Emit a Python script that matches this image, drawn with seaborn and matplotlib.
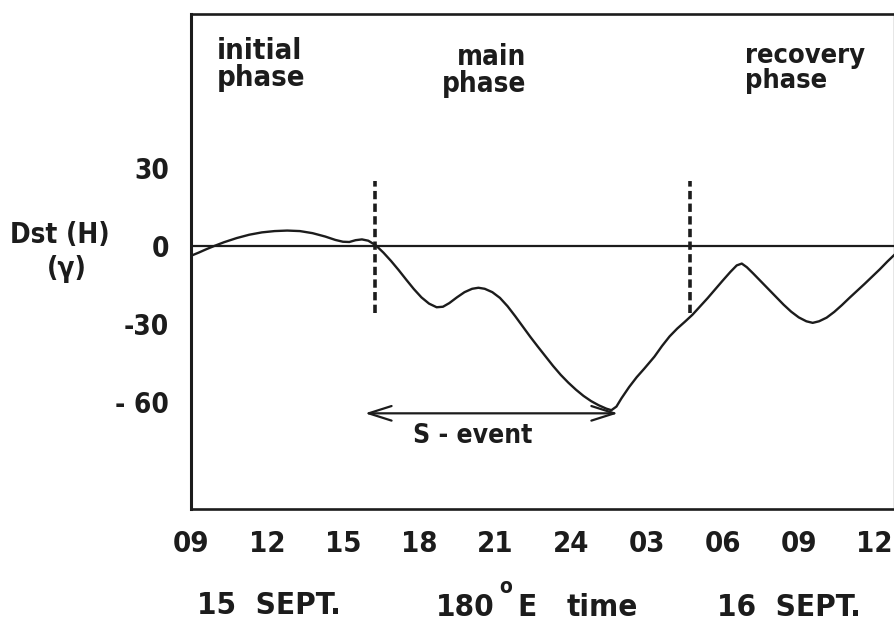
import matplotlib
matplotlib.use("Agg")
import matplotlib.pyplot as plt
import seaborn as sns
import pandas as pd

# Storm-time Dst(H) trace, hours counted from 09h 15 Sept (180°E time)
hours = [0.0, 0.3, 0.6, 0.9, 1.3, 1.8, 2.3, 2.8, 3.3, 3.8, 4.3, 4.8,
         5.3, 5.7, 6.0, 6.25, 6.5, 6.75, 7.0, 7.3, 7.6, 7.9, 8.2, 8.5,
         8.8, 9.1, 9.4, 9.7, 9.95, 10.2, 10.5, 10.8, 11.1, 11.35, 11.6, 11.9,
         12.2, 12.5, 12.8, 13.1, 13.4, 13.7, 14.0, 14.3, 14.6, 14.9, 15.2, 15.5,
         15.8, 16.1, 16.4, 16.6, 16.8, 17.0, 17.3, 17.6, 17.9, 18.1, 18.3, 18.6,
         18.9, 19.2, 19.5, 19.8, 20.1, 20.4, 20.7, 21.0, 21.3, 21.55, 21.75, 21.95,
         22.2, 22.5, 22.8, 23.1, 23.4, 23.7, 24.0, 24.3, 24.55, 24.8, 25.1, 25.4,
         25.7, 26.0, 26.3, 26.6, 26.9, 27.2, 27.5, 27.8]
dst = [-3.8, -2.6, -1.3, -0.1, 1.4, 3.0, 4.3, 5.2, 5.7, 5.9, 5.7, 4.9,
       3.6, 2.3, 1.6, 1.5, 2.2, 2.5, 2.0, 0.2, -2.6, -5.8, -9.3, -13.0,
       -16.6, -19.8, -22.2, -23.6, -23.4, -22.0, -19.8, -17.8, -16.5, -16.1, -16.5, -17.8,
       -20.0, -23.2, -27.0, -31.0, -35.0, -38.8, -42.5, -46.2, -49.6, -52.6, -55.3, -57.7,
       -59.7, -61.3, -62.6, -63.2, -61.8, -58.6, -54.3, -50.5, -47.2, -44.9, -42.6, -38.5,
       -34.8, -31.8, -29.2, -26.5, -23.3, -20.1, -16.7, -13.3, -10.0, -7.5, -6.8, -8.2,
       -10.6, -13.6, -16.6, -19.6, -22.6, -25.3, -27.5, -29.0, -29.6, -29.0, -27.6, -25.4,
       -22.8, -20.0, -17.3, -14.6, -11.8, -9.0, -6.0, -3.2]

# phase boundaries (sudden commencement of main phase, start of recovery)
phase_bounds = [7.27, 19.7]
bound_span = [-26, 25]

# S-event interval
s_event = [6.87, 16.86]
s_event_level = -64.4

tick_hours = [0, 3, 6, 9, 12, 15, 18, 21, 24, 27]
tick_labels = ["09", "12", "15", "18", "21", "24", "03", "06", "09", "12"]
ytick_vals = [30, 0, -30, -60]
ytick_labels = ["30", "0", "-30", "- 60"]

sns.set_theme(style="white")
plt.rcParams["font.family"] = ["DejaVu Sans"]
plt.rcParams["font.stretch"] = "condensed"
plt.rcParams["font.weight"] = "bold"

INK = "#1c1c1c"

W, H = 895, 628
fig = plt.figure(figsize=(W / 100, H / 100), dpi=100)
fig.patch.set_facecolor("white")
ax = fig.add_axes([191 / W, 1 - 509 / H, (W - 191) / W, (509 - 14) / H])
ax.set_facecolor("white")

df = pd.DataFrame({"hour": hours, "dst": dst})
sns.lineplot(data=df, x="hour", y="dst", ax=ax, color=INK, lw=1.7,
             sort=False, estimator=None)

ax.axhline(0, color=INK, lw=1.6)
for xb in phase_bounds:
    ax.plot([xb, xb], bound_span, color=INK, lw=2.6, linestyle=(0, (2.3, 1.2)))

ax.annotate("", xy=(s_event[1], s_event_level), xytext=(s_event[0], s_event_level),
            arrowprops=dict(arrowstyle="<->,head_length=1.1,head_width=0.35",
                            lw=1.6, color=INK, mutation_scale=15,
                            shrinkA=0, shrinkB=0))
ax.text(11.14, -73.3, "S - event", ha="center", va="center",
        fontsize=19, color=INK, fontweight="bold")

ax.set_xlim(0, 27.8)
ax.set_ylim(-101.2, 89.2)
ax.set_xticks(tick_hours)
ax.set_xticklabels(tick_labels)
ax.set_yticks(ytick_vals)
ax.set_yticklabels(ytick_labels)
ax.tick_params(axis="x", direction="in", length=11, width=1.8, color=INK,
               pad=15, labelsize=21, labelcolor=INK)
ax.tick_params(axis="y", direction="in", length=8, width=1.8, color=INK,
               pad=16, labelsize=20, labelcolor=INK)
for lab in ax.get_xticklabels() + ax.get_yticklabels():
    lab.set_fontweight("bold")
ax.set_xlabel("")
ax.set_ylabel("")

for side in ["left", "bottom", "top", "right"]:
    ax.spines[side].set_visible(True)
    ax.spines[side].set_color(INK)
ax.spines["left"].set_linewidth(2.2)
ax.spines["bottom"].set_linewidth(1.9)
ax.spines["top"].set_linewidth(1.9)
ax.spines["right"].set_linewidth(1.6)

def fig_text(x, y, s, **kw):
    kw.setdefault("fontsize", 20)
    kw.setdefault("color", INK)
    kw.setdefault("fontweight", "bold")
    fig.text(x / W, 1 - y / H, s, **kw)

# phase annotations inside the frame
fig_text(217, 37, "initial\nphase", ha="left", va="top", linespacing=0.95,
         fontsize=21)
fig_text(526, 43, "main\nphase", ha="right", va="top", linespacing=0.95,
         multialignment="right")
fig_text(745, 43, "recovery\nphase", ha="left", va="top", linespacing=0.95,
         fontsize=19.5)

# axis captions
fig_text(60, 235, "Dst (H)", ha="center", va="center", fontsize=20)
fig_text(67, 269, "(γ)", ha="center", va="center", fontsize=20)
fig_text(197, 606, "15  SEPT.", ha="left", va="center", fontsize=22.5)
fig_text(495, 607, "180", ha="right", va="center", fontsize=22.5)
fig_text(506, 587, "o", ha="center", va="center", fontsize=15)
fig_text(517, 607, "E", ha="left", va="center", fontsize=22.5)
fig_text(567, 607, "time", ha="left", va="center", fontsize=22.5)
fig_text(717, 607, "16  SEPT.", ha="left", va="center", fontsize=22.5)

fig.savefig("out.png", dpi=100, facecolor="white")
